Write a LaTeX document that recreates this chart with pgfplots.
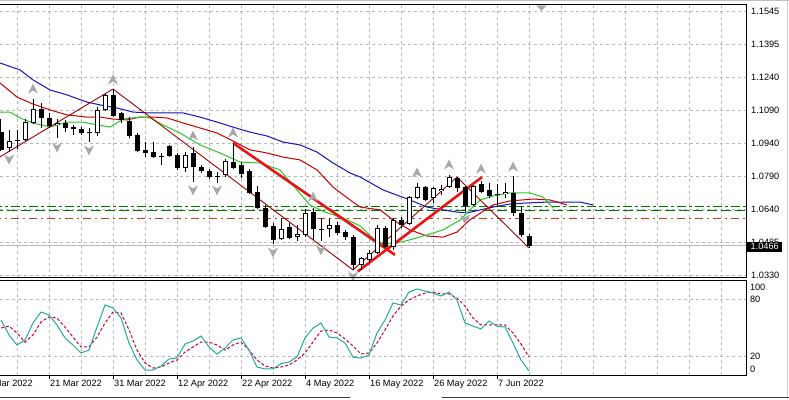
\documentclass[border=0pt]{standalone}
\usepackage{pgfplots}
\pgfplotsset{compat=1.18}
\usepackage{pgfplotstable}
\usepackage{fontspec}
\setmainfont{Liberation Sans}
\newcommand\lbl{\fontsize{9.2}{11}\selectfont}
\definecolor{gridc}{RGB}{185,185,185}
\definecolor{jaw}{RGB}{20,20,185}
\definecolor{teeth}{RGB}{200,0,0}
\definecolor{lips}{RGB}{40,200,40}
\definecolor{zz}{RGB}{160,0,0}
\definecolor{tline}{RGB}{235,20,20}
\definecolor{lvlg}{RGB}{0,120,0}
\definecolor{lvlr}{RGB}{205,60,30}
\definecolor{stm}{RGB}{32,170,160}
\definecolor{sts}{RGB}{205,0,45}
\definecolor{fract}{RGB}{168,168,168}
\pgfdeclareplotmark{fup}{%
  \pgfpathmoveto{\pgfqpoint{0pt}{5.5pt}}%
  \pgfpathlineto{\pgfqpoint{5pt}{-4.5pt}}%
  \pgfpathlineto{\pgfqpoint{0pt}{-1.5pt}}%
  \pgfpathlineto{\pgfqpoint{-5pt}{-4.5pt}}%
  \pgfpathclose\pgfusepathqfill}
\pgfdeclareplotmark{fdown}{%
  \pgfpathmoveto{\pgfqpoint{0pt}{-5.5pt}}%
  \pgfpathlineto{\pgfqpoint{5pt}{4.5pt}}%
  \pgfpathlineto{\pgfqpoint{0pt}{1.5pt}}%
  \pgfpathlineto{\pgfqpoint{-5pt}{4.5pt}}%
  \pgfpathclose\pgfusepathqfill}

\pgfplotstableread{
k main sig
-6 58.5 50
-5 42.6 52
-4 31.9 44.7
-3 37.2 35
-2 55.3 42.6
-1 67 56.4
0 63.8 61.7
1 53.2 60.6
2 39.4 51
3 31.9 40.4
4 23.4 29.8
5 26.6 29.8
6 51 40.4
7 74.5 55.3
8 71.3 67
9 60.6 66
10 34 47.9
11 16 26.6
12 5.3 12.8
13 5.3 7.4
14 9.6 8.5
15 17 12.8
16 18 16
17 33 24.5
18 36.2 29.8
19 41.5 35.1
20 29.8 35.1
21 22.3 31.9
22 28.7 26.6
23 37.2 31.9
24 39.4 35.1
25 26.6 26.6
26 8.5 16
27 6.4 9.6
28 6.4 7.4
29 12 8.5
30 13.8 10.6
31 19 16
32 39.4 23.4
33 50 35.1
34 55.3 46.8
35 40.4 47.9
36 39.4 44.7
37 34 38.3
38 19 30.9
39 18 22.3
40 21.3 23.4
41 44.7 34
42 58.5 47.9
43 76.6 62.8
44 74.5 73.4
45 88.3 79.8
46 91.5 84
47 89.4 87.2
48 87.2 88.3
49 84 86.2
50 88.3 86.2
51 79.8 81.9
52 55.3 73.4
53 52 60.6
54 49 53.2
55 57.4 53.2
56 52 53.2
57 51 53.2
58 34 44.7
59 16 33
60 4.3 19.1
}\stoch

\begin{document}
\begin{tikzpicture}[x=1pt,y=1pt]
\useasboundingbox (0,0) rectangle (789,399);
\fill[white] (0,0) rectangle (789,399);
% ---------------- main price panel
\begin{axis}[at={(0pt,121pt)}, anchor=south west, scale only axis,
  width=746pt, height=273pt,
  xmin=-6.125, xmax=87.125, ymin=1.03168, ymax=1.15726,
  axis line style={draw=none},
  unbounded coords=jump,
  xtick={-4,0,...,84}, xticklabels={}, xtick style={draw=none},
  ytick={1.1545,1.1393125,1.124125,1.1089375,1.09375,1.0785625,1.063375,1.0481875,1.033},
  yticklabels={1.1545,1.1395,1.1240,1.1090,1.0940,1.0790,1.0640,1.0485,1.0330},
  yticklabel pos=right, ytick style={draw=none},
  yticklabel style={font=\lbl, anchor=west, inner sep=0pt, xshift=5pt},
  grid=major, major grid style={draw=gridc, line width=0.8pt, dash pattern=on 3pt off 3pt},
]
% horizontal levels
\addplot[lvlg, line width=1pt, dash pattern=on 9pt off 3pt on 3pt off 3pt] coordinates {(-7,1.0645) (88,1.0645)};
\addplot[lvlg, line width=1pt, dash pattern=on 10pt off 4pt] coordinates {(-7,1.0625) (88,1.0625)};
\addplot[lvlr, line width=1pt, dash pattern=on 8pt off 4pt on 2pt off 4pt] coordinates {(-7,1.0591) (88,1.0591)};
\addplot[gray!55, line width=1pt] coordinates {(-7,1.0466) (88,1.0466)};
% alligator
\addplot[jaw, line width=1pt] coordinates {(-6.125,1.1306) (-3.625,1.1274) (-2,1.1228) (0.125,1.1182) (2.25,1.1159) (4.75,1.1126) (6.375,1.1113) (8.5,1.1099) (10.5,1.1080) (12.625,1.1076) (14.75,1.1076) (16.75,1.1076) (18.875,1.1057) (21,1.1034) (23,1.1011) (25.125,1.0988) (27.25,1.0970) (29.25,1.0942) (31.375,1.0929) (33.5,1.0896) (35.5,1.0846) (37.625,1.0800) (38.9,1.0781) (41.75,1.0722) (45.1,1.0676) (47.25,1.0643) (49.25,1.0630) (51,1.0620) (52.25,1.0616) (53.9,1.0630) (55.5,1.0643) (57.6,1.0657) (59.75,1.0662) (62.25,1.0666) (64.75,1.0666) (66.4,1.0666) (68,1.0653)};
\addplot[teeth, line width=1pt] coordinates {(-6.125,1.1214) (-4,1.1149) (-2,1.1117) (0.125,1.1090) (2.25,1.1067) (4.75,1.1057) (6.375,1.1057) (8,1.1048) (9.75,1.1044) (11.375,1.1057) (13,1.1057) (14.75,1.1053) (16.75,1.1030) (18.875,1.1007) (21,1.0984) (23,1.0947) (25.125,1.0906) (27.25,1.0892) (29.25,1.0873) (31.375,1.0860) (33.5,1.0814) (35.5,1.0735) (37.625,1.0676) (38.9,1.0643) (41.4,1.0630) (43,1.0584) (45.1,1.0538) (47.25,1.0510) (49.25,1.0505) (51,1.0528) (52.6,1.0584) (55.5,1.0653) (57.6,1.0671) (60.5,1.0680) (62.6,1.0676) (64.75,1.0653)};
\addplot[lips, line width=1pt] coordinates {(-6.125,1.1080) (-4.875,1.1080) (-3.625,1.1053) (-2,1.1030) (0.125,1.1011) (2.25,1.1034) (4.25,1.1034) (6,1.1021) (7.625,1.1011) (9.25,1.1048) (11.375,1.1057) (12.625,1.1053) (14.25,1.1021) (16.375,1.0984) (18.875,1.0929) (21.375,1.0892) (23.875,1.0850) (26.375,1.0846) (28.875,1.0814) (31,1.0722) (32.6,1.0653) (34.5,1.0620) (36.75,1.0593) (38.9,1.0556) (41,1.0483) (43,1.0474) (45.1,1.0492) (47.25,1.0515) (49.25,1.0538) (51.4,1.0584) (52.6,1.0630) (53.9,1.0676) (55.5,1.0694) (57.6,1.0708) (60.1,1.0708) (61.75,1.0689) (63,1.0639)};
% zigzag
\addplot[zz, line width=0.9pt] coordinates {(-7,1.0855) (8,1.1186) (38,1.0354) (51,1.0781) (60,1.0455)};
% trend lines
\addplot[tline, line width=2.6pt] coordinates {(23,1.0938) (43.25,1.0423)};
\addplot[tline, line width=2.6pt] coordinates {(38.6,1.0347) (54.125,1.0781)};
% candle wicks (low to high)
\addplot[black, line width=1pt] coordinates {
(-6,1.0901) (-6,1.1048) (-6,nan) (-5,1.0896) (-5,1.0998) (-5,nan) (-4,1.0910) (-4,1.0998) (-4,nan)
(-3,1.0947) (-3,1.1048) (-3,nan) (-2,1.1025) (-2,1.1140) (-2,nan) (-1,1.1007) (-1,1.1122) (-1,nan)
(0,1.1007) (0,1.1076) (0,nan) (1,1.0961) (1,1.1048) (1,nan) (2,1.0988) (2,1.1044) (2,nan)
(3,1.0975) (3,1.1021) (3,nan) (4,1.0975) (4,1.1011) (4,nan) (5,1.0942) (5,1.1007) (5,nan)
(6,1.0970) (6,1.1103) (6,nan) (7,1.1085) (7,1.1168) (7,nan) (8,1.1057) (8,1.1186) (8,nan)
(9,1.1030) (9,1.1080) (9,nan) (10,1.0961) (10,1.1057) (10,nan) (11,1.0896) (11,1.0984) (11,nan)
(12,1.0873) (12,1.0942) (12,nan) (13,1.0869) (13,1.0942) (13,nan) (14,1.0837) (14,1.0892) (14,nan)
(15,1.0873) (15,1.0929) (15,nan) (16,1.0814) (16,1.0892) (16,nan) (17,1.0804) (17,1.0896) (17,nan)
(18,1.0758) (18,1.0919) (18,nan) (19,1.0800) (19,1.0837) (19,nan) (20,1.0772) (20,1.0818) (20,nan)
(21,1.0754) (21,1.0804) (21,nan) (22,1.0781) (22,1.0864) (22,nan) (23,1.0818) (23,1.0938) (23,nan)
(24,1.0777) (24,1.0850) (24,nan) (25,1.0703) (25,1.0818) (25,nan) (26,1.0634) (26,1.0740) (26,nan)
(27,1.0547) (27,1.0653) (27,nan) (28,1.0473) (28,1.0570) (28,nan) (29,1.0492) (29,1.0593) (29,nan)
(30,1.0496) (30,1.0570) (30,nan) (31,1.0487) (31,1.0561) (31,nan) (32,1.0505) (32,1.0634) (32,nan)
(33,1.0492) (33,1.0639) (33,nan) (34,1.0487) (34,1.0593) (34,nan) (35,1.0505) (35,1.0593) (35,nan)
(36,1.0515) (36,1.0574) (36,nan) (37,1.0492) (37,1.0538) (37,nan) (38,1.0354) (38,1.0515) (38,nan)
(39,1.0354) (39,1.0413) (39,nan) (40,1.0390) (40,1.0446) (40,nan) (41,1.0427) (41,1.0561) (41,nan)
(42,1.0455) (42,1.0556) (42,nan) (43,1.0446) (43,1.0593) (43,nan) (44,1.0547) (44,1.0597) (44,nan)
(45,1.0561) (45,1.0694) (45,nan) (46,1.0680) (46,1.0754) (46,nan) (47,1.0671) (47,1.0740) (47,nan)
(48,1.0662) (48,1.0735) (48,nan) (49,1.0699) (49,1.0745) (49,nan) (50,1.0731) (50,1.0791) (50,nan)
(51,1.0712) (51,1.0781) (51,nan) (52,1.0620) (52,1.0740) (52,nan) (53,1.0648) (53,1.0745) (53,nan)
(54,1.0708) (54,1.0763) (54,nan) (55,1.0685) (55,1.0754) (55,nan) (56,1.0644) (56,1.0750) (56,nan)
(57,1.0685) (57,1.0754) (57,nan) (58,1.0602) (58,1.0786) (58,nan) (59,1.0506) (59,1.0648) (59,nan)
(60,1.0455) (60,1.0519)};
% bearish bodies (close to open)
\addplot[black, line width=5pt] coordinates {
(-6,1.0906) (-6,1.0988) (-6,nan) (-4,1.0947) (-4,1.0952) (-4,nan) (-1,1.1053) (-1,1.1094) (-1,nan)
(0,1.1016) (0,1.1053) (0,nan) (2,1.1007) (2,1.1030) (2,nan) (3,1.1002) (3,1.1011) (3,nan)
(4,1.0984) (4,1.1002) (4,nan) (5,1.0985) (5,1.0989) (5,nan) (8,1.1062) (8,1.1159) (8,nan)
(9,1.1044) (9,1.1076) (9,nan) (10,1.0970) (10,1.1039) (10,nan) (11,1.0901) (11,1.0975) (11,nan)
(12,1.0892) (12,1.0906) (12,nan) (13,1.0873) (13,1.0896) (13,nan) (14,1.0875) (14,1.0879) (14,nan)
(15,1.0878) (15,1.0924) (15,nan) (16,1.0823) (16,1.0883) (16,nan) (18,1.0827) (18,1.0892) (18,nan)
(19,1.0809) (19,1.0827) (19,nan) (20,1.0781) (20,1.0809) (20,nan) (21,1.0783) (21,1.0787) (21,nan)
(23,1.0823) (23,1.0850) (23,nan) (24,1.0795) (24,1.0837) (24,nan) (25,1.0708) (25,1.0809) (25,nan)
(26,1.0639) (26,1.0712) (26,nan) (27,1.0551) (27,1.0639) (27,nan) (28,1.0492) (28,1.0556) (28,nan)
(30,1.0501) (30,1.0551) (30,nan) (33,1.0542) (33,1.0620) (33,nan) (34,1.0539) (34,1.0543) (34,nan)
(36,1.0524) (36,1.0561) (36,nan) (37,1.0505) (37,1.0528) (37,nan) (38,1.0377) (38,1.0505) (38,nan)
(42,1.0459) (42,1.0547) (42,nan) (44,1.0561) (44,1.0584) (44,nan) (47,1.0676) (47,1.0735) (47,nan)
(51,1.0731) (51,1.0777) (51,nan) (52,1.0648) (52,1.0735) (52,nan) (54,1.0712) (54,1.0749) (54,nan)
(55,1.0694) (55,1.0722) (55,nan) (56,1.0699) (56,1.0703) (56,nan) (58,1.0616) (58,1.0708) (58,nan)
(59,1.0514) (59,1.0616) (59,nan) (60,1.0466) (60,1.0510)};
% bullish bodies: outline (open to close)
\addplot[black, line width=5pt] coordinates {
(-5,1.0915) (-5,1.0947) (-5,nan) (-3,1.0952) (-3,1.1034) (-3,nan) (-2,1.1030) (-2,1.1094) (-2,nan)
(1,1.1019) (1,1.1032) (1,nan) (6,1.0984) (6,1.1090) (6,nan) (7,1.1090) (7,1.1159) (7,nan)
(17,1.0823) (17,1.0883) (17,nan) (22,1.0791) (22,1.0855) (22,nan) (29,1.0496) (29,1.0542) (29,nan)
(31,1.0505) (31,1.0519) (31,nan) (32,1.0515) (32,1.0616) (32,nan) (35,1.0542) (35,1.0561) (35,nan)
(39,1.0377) (39,1.0409) (39,nan) (40,1.0400) (40,1.0432) (40,nan) (41,1.0432) (41,1.0547) (41,nan)
(43,1.0459) (43,1.0584) (43,nan) (45,1.0565) (45,1.0689) (45,nan) (46,1.0685) (46,1.0735) (46,nan)
(48,1.0685) (48,1.0731) (48,nan) (49,1.0716) (49,1.0728) (49,nan) (50,1.0735) (50,1.0781) (50,nan)
(53,1.0653) (53,1.0740) (53,nan) (57,1.0702) (57,1.0713)};
% bullish bodies: white inside
\addplot[white, line width=3pt] coordinates {
(-5,1.0920) (-5,1.0942) (-5,nan) (-3,1.0957) (-3,1.1029) (-3,nan) (-2,1.1035) (-2,1.1089) (-2,nan)
(1,1.1024) (1,1.1027) (1,nan) (6,1.0989) (6,1.1085) (6,nan) (7,1.1095) (7,1.1154) (7,nan)
(17,1.0828) (17,1.0878) (17,nan) (22,1.0796) (22,1.0850) (22,nan) (29,1.0501) (29,1.0537) (29,nan)
(31,1.0510) (31,1.0514) (31,nan) (32,1.0520) (32,1.0611) (32,nan) (35,1.0547) (35,1.0556) (35,nan)
(39,1.0382) (39,1.0404) (39,nan) (40,1.0405) (40,1.0427) (40,nan) (41,1.0437) (41,1.0542) (41,nan)
(43,1.0464) (43,1.0579) (43,nan) (45,1.0570) (45,1.0684) (45,nan) (46,1.0690) (46,1.0730) (46,nan)
(48,1.0690) (48,1.0726) (48,nan) (49,1.0721) (49,1.0723) (49,nan) (50,1.0740) (50,1.0776) (50,nan)
(53,1.0658) (53,1.0735) (53,nan) (57,1.0707) (57,1.0708)};
% fractals
\addplot[only marks, mark=fup, fract] coordinates {(-2,1.1186) (8,1.1228) (18,1.0970) (23,1.0984) (33,1.0689) (46,1.0800) (50,1.0837) (54,1.0818) (58,1.0827)};
\addplot[only marks, mark=fdown, fract] coordinates {(-5,1.0864) (1,1.0919) (5,1.0906) (18,1.0722) (21,1.0722) (28,1.0436) (34,1.0446) (38,1.0326) (52,1.0588)};
\end{axis}
% ---------------- stochastic panel
\begin{axis}[at={(0pt,24pt)}, anchor=south west, scale only axis,
  width=746pt, height=94pt,
  xmin=-6.125, xmax=87.125, ymin=0, ymax=100,
  axis line style={draw=none},
  clip mode=individual,
  xtick={0,8,...,56},
  xticklabels={21 Mar 2022,31 Mar 2022,12 Apr 2022,22 Apr 2022,4 May 2022,16 May 2022,26 May 2022,7 Jun 2022},
  minor xtick={-4,4,12,20,28,36,44,52,60,64,68,72,76,80,84},
  xtick pos=left, tick align=outside, major tick length=4pt, minor tick length=0pt,
  xtick style={draw=black, line width=1pt},
  xticklabel style={font=\lbl, anchor=north west, inner sep=1pt},
  ytick={20,80}, yticklabels={}, ytick style={draw=none},
  grid=both, major grid style={draw=gridc, line width=0.8pt, dash pattern=on 3pt off 3pt},
  minor grid style={draw=gridc, line width=0.8pt, dash pattern=on 3pt off 3pt},
]
\addplot[sts, line width=1pt, dash pattern=on 3pt off 2pt] table[x=k, y=sig] \stoch;
\addplot[stm, line width=1pt] table[x=k, y=main] \stoch;
\node[font=\lbl, anchor=west, inner sep=0pt] at (axis cs:87.6,93.6) {100};
\node[font=\lbl, anchor=west, inner sep=0pt] at (axis cs:87.6,80) {80};
\node[font=\lbl, anchor=west, inner sep=0pt] at (axis cs:87.6,20) {20};
\node[font=\lbl, anchor=west, inner sep=0pt] at (axis cs:87.6,6.4) {0};
\end{axis}
% frames and window decoration
\draw[black, line width=1pt] (0,394) -- (746,394) -- (746,121) -- (0,121);
\draw[black, line width=1pt] (0,118) -- (746,118) -- (746,24) -- (0,24);
\node[font=\lbl, anchor=north west, inner sep=1pt] at (-15,20) {9 Mar 2022};
\node[font=\lbl, anchor=west, fill=black, text=white, inner xsep=3.5pt, inner ysep=0pt, minimum height=10pt] at (747,152.3) {1.0466};
\fill[fract] (536.5,393.5) -- (546.5,393.5) -- (541.5,388) -- cycle;
\draw[gray!50, line width=1pt] (0,398) -- (789,398);
\draw[gray!40, line width=1pt] (787.5,0) -- (787.5,399);
\draw[black!75, line width=1pt] (0,1.5) -- (350,1.5);
\draw[black!75, line width=1pt] (442,1.5) -- (789,1.5);
\end{tikzpicture}
\end{document}
